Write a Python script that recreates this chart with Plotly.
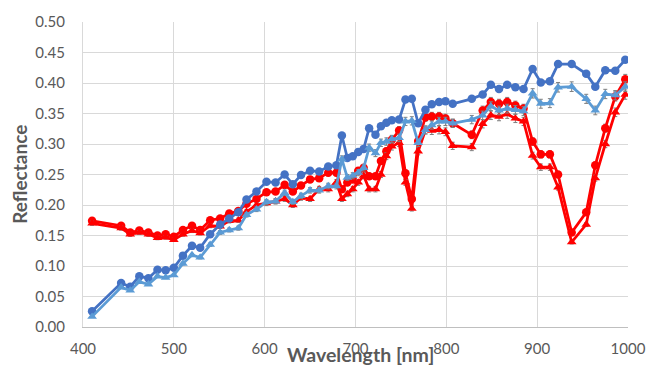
import plotly.graph_objects as go

wavelength = [410, 442, 452, 462, 472, 482, 491, 500, 510, 520,
              529, 540, 551, 561, 571, 580, 591, 602, 612, 622,
              631, 640, 650, 660, 670, 679, 685, 691, 697, 703,
              709, 715, 722, 728, 734, 740, 748, 755, 762, 769,
              777, 784, 792, 799, 807, 828, 840, 849, 858, 867,
              876, 885, 895, 904, 914, 923, 938, 954, 964, 975,
              986, 997]

blue_circle = [0.026, 0.072, 0.066, 0.083, 0.080, 0.094, 0.093, 0.097, 0.117, 0.133,
               0.130, 0.152, 0.168, 0.178, 0.188, 0.209, 0.222, 0.238, 0.237, 0.250,
               0.234, 0.249, 0.256, 0.255, 0.263, 0.265, 0.314, 0.277, 0.280, 0.287,
               0.292, 0.326, 0.315, 0.329, 0.335, 0.339, 0.340, 0.373, 0.374, 0.334,
               0.356, 0.365, 0.369, 0.370, 0.366, 0.374, 0.381, 0.397, 0.390, 0.397,
               0.393, 0.390, 0.423, 0.401, 0.403, 0.431, 0.431, 0.415, 0.394, 0.421,
               0.420, 0.438]

blue_triangle = [0.017, 0.065, 0.060, 0.074, 0.070, 0.083, 0.081, 0.085, 0.104, 0.118,
                 0.114, 0.135, 0.155, 0.159, 0.162, 0.184, 0.193, 0.205, 0.206, 0.220,
                 0.205, 0.215, 0.224, 0.224, 0.231, 0.231, 0.275, 0.245, 0.248, 0.253,
                 0.261, 0.294, 0.285, 0.302, 0.304, 0.308, 0.310, 0.337, 0.338, 0.302,
                 0.323, 0.331, 0.337, 0.337, 0.334, 0.340, 0.347, 0.362, 0.355, 0.358,
                 0.356, 0.354, 0.383, 0.366, 0.367, 0.393, 0.394, 0.374, 0.355, 0.382,
                 0.380, 0.394]

red_circle = [0.174, 0.166, 0.155, 0.158, 0.155, 0.150, 0.152, 0.148, 0.159, 0.166,
              0.159, 0.175, 0.178, 0.186, 0.190, 0.202, 0.210, 0.221, 0.222, 0.233,
              0.222, 0.232, 0.242, 0.244, 0.253, 0.253, 0.226, 0.237, 0.242, 0.256,
              0.261, 0.247, 0.247, 0.272, 0.288, 0.307, 0.322, 0.252, 0.210, 0.305,
              0.344, 0.345, 0.345, 0.342, 0.334, 0.315, 0.355, 0.369, 0.366, 0.369,
              0.363, 0.358, 0.304, 0.283, 0.283, 0.250, 0.155, 0.188, 0.265, 0.326,
              0.378, 0.406]

red_triangle = [0.170, 0.162, 0.152, 0.155, 0.152, 0.146, 0.147, 0.143, 0.152, 0.158,
                0.154, 0.166, 0.165, 0.174, 0.175, 0.189, 0.200, 0.203, 0.206, 0.210,
                0.200, 0.212, 0.210, 0.226, 0.226, 0.237, 0.210, 0.218, 0.226, 0.237,
                0.248, 0.226, 0.226, 0.250, 0.280, 0.296, 0.302, 0.237, 0.194, 0.288,
                0.323, 0.322, 0.323, 0.320, 0.297, 0.295, 0.333, 0.347, 0.345, 0.349,
                0.342, 0.337, 0.281, 0.262, 0.262, 0.229, 0.139, 0.168, 0.244, 0.300,
                0.352, 0.381]

x_ticks = [400, 500, 600, 700, 800, 900, 1000]
y_ticks = [0.00, 0.05, 0.10, 0.15, 0.20, 0.25, 0.30, 0.35, 0.40, 0.45, 0.50]

BLUE_DARK = "#4472C4"
BLUE_LIGHT = "#5B9BD5"
RED = "#FF0000"
ERR = dict(type="percent", value=2, color="#7F7F7F", thickness=1, width=2)

fig = go.Figure()

def add(y, color, symbol, size, err):
    kw = {}
    if err:
        kw["error_y"] = ERR
    fig.add_trace(go.Scatter(
        x=wavelength, y=y, mode="lines+markers",
        line=dict(color=color, width=2.75),
        marker=dict(color=color, symbol=symbol, size=size),
        showlegend=False, hoverinfo="skip", **kw))

add(red_circle, RED, "circle", 8.5, True)
add(red_triangle, RED, "triangle-up", 8.5, True)
add(blue_circle, BLUE_DARK, "circle", 8.5, False)
add(blue_triangle, BLUE_LIGHT, "triangle-up", 8.5, True)

FONT = "Lato, Open Sans, sans-serif"
tick_font = dict(family=FONT, size=15, color="#595959")

fig.update_xaxes(range=[400, 1000], tickvals=x_ticks, ticktext=[str(v) for v in x_ticks],
                 showgrid=True, gridcolor="#D9D9D9", gridwidth=1,
                 showline=True, linecolor="#BFBFBF", linewidth=1,
                 zeroline=False, ticks="", tickfont=tick_font, ticklabelstandoff=8)
fig.update_yaxes(range=[0, 0.5], tickvals=y_ticks, tickformat=".2f",
                 showgrid=True, gridcolor="#D9D9D9", gridwidth=1,
                 showline=True, linecolor="#D9D9D9", linewidth=1,
                 zeroline=False, ticks="", tickfont=tick_font, ticklabelstandoff=14)

fig.add_annotation(text="<b>Wavelength [nm]</b>", xref="paper", yref="paper",
                   x=0.51, y=-0.09, xanchor="center", yanchor="middle", showarrow=False,
                   font=dict(family=FONT, size=19.5, color="#595959"))
fig.add_annotation(text="<b>Reflectance</b>", xref="paper", yref="paper",
                   x=-0.117, y=0.5, xanchor="center", yanchor="middle", showarrow=False,
                   textangle=-90,
                   font=dict(family=FONT, size=19, color="#595959"))

fig.update_layout(width=658, height=372, margin=dict(l=83, r=29, t=17, b=45),
                  plot_bgcolor="white", paper_bgcolor="white")

fig.write_html("out.html", config={"displayModeBar": False},
               post_script="document.body.style.margin='0';document.body.style.overflow='hidden';")
